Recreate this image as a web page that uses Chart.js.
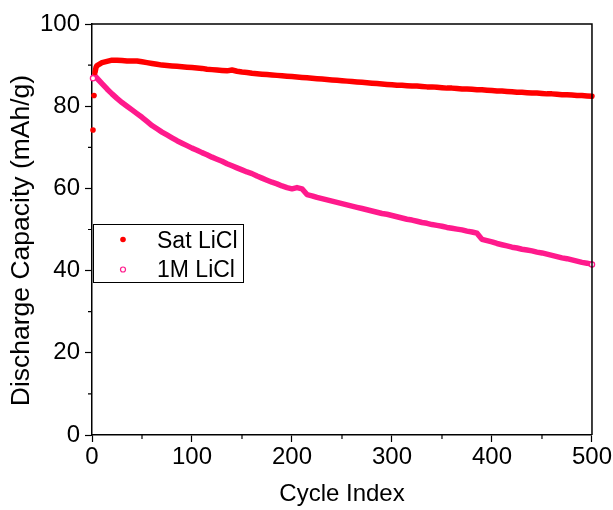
<!DOCTYPE html>
<html><head><meta charset="utf-8">
<script src="https://cdn.jsdelivr.net/npm/chart.js@4.4.1/dist/chart.umd.min.js"></script>
<style>html,body{margin:0;padding:0;background:#fff;}#wrap{width:613px;height:510px;}</style>
</head><body><div id="wrap"><canvas id="c" width="613" height="510"></canvas></div>
<script>
// ---- data ----
const cycles = [1,2,3,4,5,10,15,20,25,30,35,40,45,50,55,60,65,70,75,80,85,90,95,100,
105,110,115,120,125,130,135,140,145,150,155,160,165,170,175,180,185,190,195,200,
205,210,215,220,225,230,235,240,245,250,255,260,265,270,275,280,285,290,295,300,
305,310,315,320,325,330,335,340,345,350,355,360,365,370,375,380,385,390,395,400,
405,410,415,420,425,430,435,440,445,450,455,460,465,470,475,480,485,490,495,500];
const satLiCl = [74.2,82.6,88.2,89.4,89.9,90.6,90.9,91.2,91.2,91.1,91.0,91.0,91.0,90.8,90.6,90.4,90.2,90.0,89.9,89.8,89.7,89.6,89.5,89.4,
89.3,89.2,89.0,88.9,88.8,88.7,88.6,88.8,88.5,88.3,88.2,88.0,87.9,87.8,87.7,87.6,87.5,87.4,87.3,87.2,
87.1,87.0,86.9,86.8,86.7,86.6,86.5,86.4,86.3,86.2,86.1,86.0,85.9,85.8,85.7,85.6,85.5,85.4,85.3,85.2,
85.1,85.1,85.0,84.9,84.9,84.8,84.7,84.7,84.6,84.5,84.4,84.4,84.3,84.2,84.2,84.1,84.0,84.0,83.9,83.8,
83.7,83.7,83.6,83.5,83.4,83.4,83.3,83.2,83.2,83.1,83.0,83.0,82.9,82.8,82.8,82.7,82.6,82.6,82.5,82.4];
const oneMLiCl = [86.8,87.3,87.4,87.1,86.8,85.5,84.2,83.0,81.9,80.9,80.0,79.1,78.2,77.3,76.3,75.3,74.5,73.7,73.0,72.3,71.6,71.0,70.4,69.8,
69.3,68.7,68.2,67.6,67.1,66.6,66.0,65.5,65.0,64.5,64.0,63.6,63.0,62.5,62.0,61.5,61.1,60.6,60.2,59.9,
60.2,59.9,58.5,58.2,57.8,57.5,57.2,56.9,56.6,56.3,56.0,55.7,55.4,55.1,54.8,54.5,54.2,53.9,53.7,53.4,
53.1,52.8,52.5,52.3,52.0,51.7,51.5,51.2,51.0,50.8,50.5,50.3,50.1,49.9,49.6,49.4,49.1,47.6,47.3,47.0,
46.6,46.3,46.0,45.7,45.5,45.2,45.0,44.8,44.5,44.3,44.0,43.7,43.4,43.1,42.9,42.6,42.3,42.0,41.8,41.5];
const xTicks = [0,100,200,300,400,500];
const xMinorTicks = [50,150,250,350,450];
const yTicks = [0,20,40,60,80,100];
const yMinorTicks = [10,30,50,70,90];
const seriesNames = ['Sat LiCl','1M LiCl'];
const xTitle = 'Cycle Index';
const yTitle = 'Discharge Capacity (mAh/g)';

// ---- styling ----
const RED = '#ff0000';
const PINK = '#ff1a8c';
const FONT = "'Liberation Sans', Arial, sans-serif";

const toXY = arr => arr.map((v, i) => ({x: cycles[i], y: v}));

const framePlugin = {
  id: 'frame',
  afterDraw(chart) {
    const {ctx, chartArea: a, scales} = chart;
    ctx.save();
    ctx.strokeStyle = '#000';
    ctx.lineWidth = 1.5;
    ctx.beginPath();
    ctx.moveTo(a.left, a.top); ctx.lineTo(a.right, a.top); ctx.lineTo(a.right, a.bottom);
    ctx.stroke();
    ctx.lineWidth = 1.2;
    ctx.beginPath();
    xMinorTicks.forEach(v => { const p = scales.x.getPixelForValue(v); ctx.moveTo(p, a.bottom); ctx.lineTo(p, a.bottom + 4); });
    yMinorTicks.forEach(v => { const p = scales.y.getPixelForValue(v); ctx.moveTo(a.left, p); ctx.lineTo(a.left - 4, p); });
    ctx.stroke();
    // legend
    const lx = 93.5, ly = 224.5, lw = 150, lh = 58;
    ctx.fillStyle = '#fff';
    ctx.fillRect(lx, ly, lw, lh);
    ctx.lineWidth = 1;
    ctx.strokeStyle = '#000';
    ctx.strokeRect(lx, ly, lw, lh);
    ctx.beginPath(); ctx.arc(123, 239.5, 2.8, 0, Math.PI * 2); ctx.fillStyle = RED; ctx.fill();
    ctx.beginPath(); ctx.arc(123, 269.5, 2.5, 0, Math.PI * 2); ctx.fillStyle = '#fff'; ctx.fill();
    ctx.strokeStyle = PINK; ctx.lineWidth = 1.2; ctx.stroke();
    ctx.fillStyle = '#000';
    ctx.font = '23px ' + FONT;
    ctx.textBaseline = 'alphabetic';
    ctx.textAlign = 'left';
    ctx.fillText(seriesNames[0], 157, 247.5);
    ctx.fillText(seriesNames[1], 157, 277);
    ctx.restore();
  }
};

new Chart(document.getElementById('c'), {
  type: 'line',
  data: {
    datasets: [
      {
        label: seriesNames[0], data: toXY(satLiCl),
        borderColor: RED, backgroundColor: RED, borderWidth: 5.5,
        borderCapStyle: 'round', borderJoinStyle: 'round', tension: 0,
        pointRadius: c => c.dataIndex < 2 ? 2.8 : 0,
        pointBackgroundColor: RED, pointBorderColor: RED, pointBorderWidth: 0,
        segment: { borderColor: c => c.p0DataIndex < 2 ? 'rgba(0,0,0,0)' : undefined },
        clip: false
      },
      {
        label: seriesNames[1], data: toXY(oneMLiCl),
        borderColor: PINK, backgroundColor: '#fff', borderWidth: 5.5,
        borderCapStyle: 'round', borderJoinStyle: 'round', tension: 0,
        pointRadius: c => (c.dataIndex === 0 || c.dataIndex === oneMLiCl.length - 1) ? 2.6 : 0,
        pointBackgroundColor: '#fff', pointBorderColor: PINK, pointBorderWidth: 1.3,
        clip: false
      }
    ]
  },
  options: {
    responsive: false, animation: false, devicePixelRatio: 1,
    layout: { padding: { top: 24, right: 21, left: 0, bottom: 0 } },
    plugins: { legend: { display: false }, tooltip: { enabled: false } },
    scales: {
      x: {
        type: 'linear', min: 0, max: 500,
        afterBuildTicks: s => { s.ticks = xTicks.map(v => ({ value: v })); },
        afterFit: s => { s.height = 75; },
        grid: { drawOnChartArea: false, drawTicks: true, tickLength: 7, tickColor: '#000', tickWidth: 1.2 },
        border: { color: '#000', width: 1.5 },
        ticks: { color: '#000', font: { family: FONT, size: 24 }, padding: 1, maxRotation: 0, autoSkip: false },
        title: { display: true, text: xTitle, color: '#000', font: { family: FONT, size: 24 }, padding: { top: 0, bottom: 1 } }
      },
      y: {
        type: 'linear', min: 0, max: 100,
        afterBuildTicks: s => { s.ticks = yTicks.map(v => ({ value: v })); },
        afterFit: s => { s.width = 92; },
        grid: { drawOnChartArea: false, drawTicks: true, tickLength: 7, tickColor: '#000', tickWidth: 1.2 },
        border: { color: '#000', width: 1.5 },
        ticks: { color: '#000', font: { family: FONT, size: 24 }, padding: 5, autoSkip: false },
        title: { display: true, text: yTitle + '   ', color: '#000', font: { family: FONT, size: 26.5 }, padding: { top: 6, bottom: 0 } }
      }
    }
  },
  plugins: [framePlugin]
});
</script></body></html>
